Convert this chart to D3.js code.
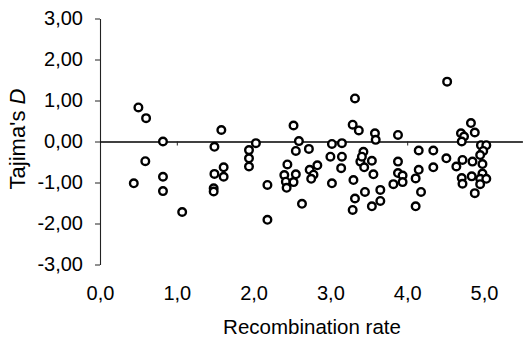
<!DOCTYPE html>
<html>
<head>
<meta charset="utf-8">
<script src="https://cdn.jsdelivr.net/npm/d3@7"></script>
<style>
  body { margin: 0; background: #fff; }
  svg { display: block; font-family: "Liberation Sans", Arial, sans-serif; }
</style>
</head>
<body>
<figure id="tajima" style="margin:0"></figure>
<script>
// recombination rate (x) and Tajima's D (y)
const rate = [
  0.44, 0.50, 0.60, 0.59, 0.82, 0.82, 0.82, 1.07, 1.49, 1.49,
  1.48, 1.48, 1.58, 1.61, 1.61, 2.03, 1.94, 1.94, 1.94, 2.18,
  2.18, 2.52, 2.59, 2.55, 2.72, 2.44, 2.40, 2.55, 2.42, 2.52,
  2.43, 2.63, 2.73, 2.83, 2.78, 2.75, 3.02, 3.15, 3.00, 3.15,
  3.14, 3.02, 3.32, 3.29, 3.37, 3.43, 3.39, 3.30, 3.45, 3.32,
  3.29, 3.58, 3.59, 3.88, 3.41, 3.54, 3.44, 3.56, 3.65, 3.65,
  3.54, 3.88, 3.88, 3.94, 3.94, 3.82, 4.15, 4.15, 4.11, 4.18,
  4.11, 4.34, 4.34, 4.52, 4.51, 4.64, 4.70, 4.74, 4.71, 4.83,
  4.88, 4.96, 5.03, 4.99, 4.95, 4.72, 4.85, 4.98, 4.98, 4.84,
  4.71, 4.95, 5.03, 4.72, 4.95, 4.88
];
const tajimaD = [
  -1.02, 0.83, 0.57, -0.48, 0.00, -0.86, -1.21, -1.72, -0.13, -0.79,
  -1.14, -1.22, 0.28, -0.63, -0.86, -0.04, -0.21, -0.41, -0.61, -1.06,
  -1.91, 0.39, 0.01, -0.23, -0.18, -0.56, -0.82, -0.80, -0.98, -0.99,
  -1.13, -1.52, -0.69, -0.58, -0.81, -0.91, -0.06, -0.04, -0.37, -0.37,
  -0.65, -1.02, 1.05, 0.41, 0.27, -0.25, -0.49, -0.94, -1.23, -1.39,
  -1.67, 0.20, 0.04, 0.16, -0.37, -0.47, -0.63, -0.80, -1.18, -1.45,
  -1.58, -0.49, -0.77, -0.83, -0.99, -1.04, -0.22, -0.69, -0.90, -1.23,
  -1.58, -0.22, -0.63, 1.46, -0.41, -0.61, 0.20, 0.12, 0.00, 0.45,
  0.22, -0.09, -0.09, -0.23, -0.33, -0.45, -0.49, -0.55, -0.78, -0.85,
  -0.89, -0.91, -0.91, -1.03, -1.04, -1.26
];
const xTicks = [0, 1, 2, 3, 4, 5];
const yTicks = [-3, -2, -1, 0, 1, 2, 3];

const data = rate.map((r, i) => ({ rate: r, d: tajimaD[i] }));

const width = 523, height = 337;
const locale = d3.formatLocale({ decimal: ",", thousands: ".", grouping: [3], currency: ["", ""], minus: "-" });
const fmtY = locale.format(".2f");
const fmtX = locale.format(".1f");

const svg = d3.select("figure#tajima")
  .append("svg")
  .attr("width", width)
  .attr("height", height);

const x = d3.scaleLinear().domain([0, 5.5]).range([100, 522.4]);
const y = d3.scaleLinear().domain([-3, 3]).range([264.5, 18.5]);

// y axis
const yAxis = svg.append("g")
  .attr("transform", "translate(100,0)")
  .call(d3.axisLeft(y).tickValues(yTicks).tickSize(5).tickPadding(12).tickFormat(fmtY).tickSizeOuter(0));
yAxis.select(".domain").attr("stroke", "#222").attr("stroke-width", 1.1);
yAxis.selectAll(".tick line").attr("stroke", "#222");
yAxis.selectAll("text")
  .attr("fill", "#000")
  .style("font-size", "20px");

// zero line with small ticks
const zeroAxis = svg.append("g")
  .attr("transform", `translate(0,${y(0)})`)
  .call(d3.axisBottom(x).tickValues(xTicks.slice(1)).tickSize(4).tickFormat("").tickSizeOuter(0));
zeroAxis.select(".domain").attr("stroke", "#000").attr("stroke-width", 1.4);
zeroAxis.selectAll(".tick line").attr("stroke", "#222");

// x tick labels, below the plot
const xLabels = svg.append("g")
  .attr("transform", "translate(0,282)")
  .call(d3.axisBottom(x).tickValues(xTicks).tickSize(0).tickPadding(4).tickFormat(fmtX));
xLabels.select(".domain").remove();
xLabels.selectAll("text")
  .attr("fill", "#000")
  .style("font-size", "20px");

// points
svg.append("g")
  .selectAll("circle")
  .data(data)
  .enter()
  .append("circle")
  .attr("cx", d => x(d.rate))
  .attr("cy", d => y(d.d))
  .attr("r", 3.8)
  .style("fill", "#fff")
  .style("stroke", "#000")
  .style("stroke-width", 2.4);

// axis titles
svg.append("text")
  .attr("text-anchor", "middle")
  .attr("x", 312)
  .attr("y", 334)
  .style("font-size", "20.5px")
  .text("Recombination rate");

const yTitle = svg.append("text")
  .attr("text-anchor", "middle")
  .attr("transform", "translate(25,139) rotate(-90)")
  .style("font-size", "22px");
yTitle.append("tspan").text("Tajima's ");
yTitle.append("tspan").style("font-style", "italic").text("D");
</script>
</body>
</html>
